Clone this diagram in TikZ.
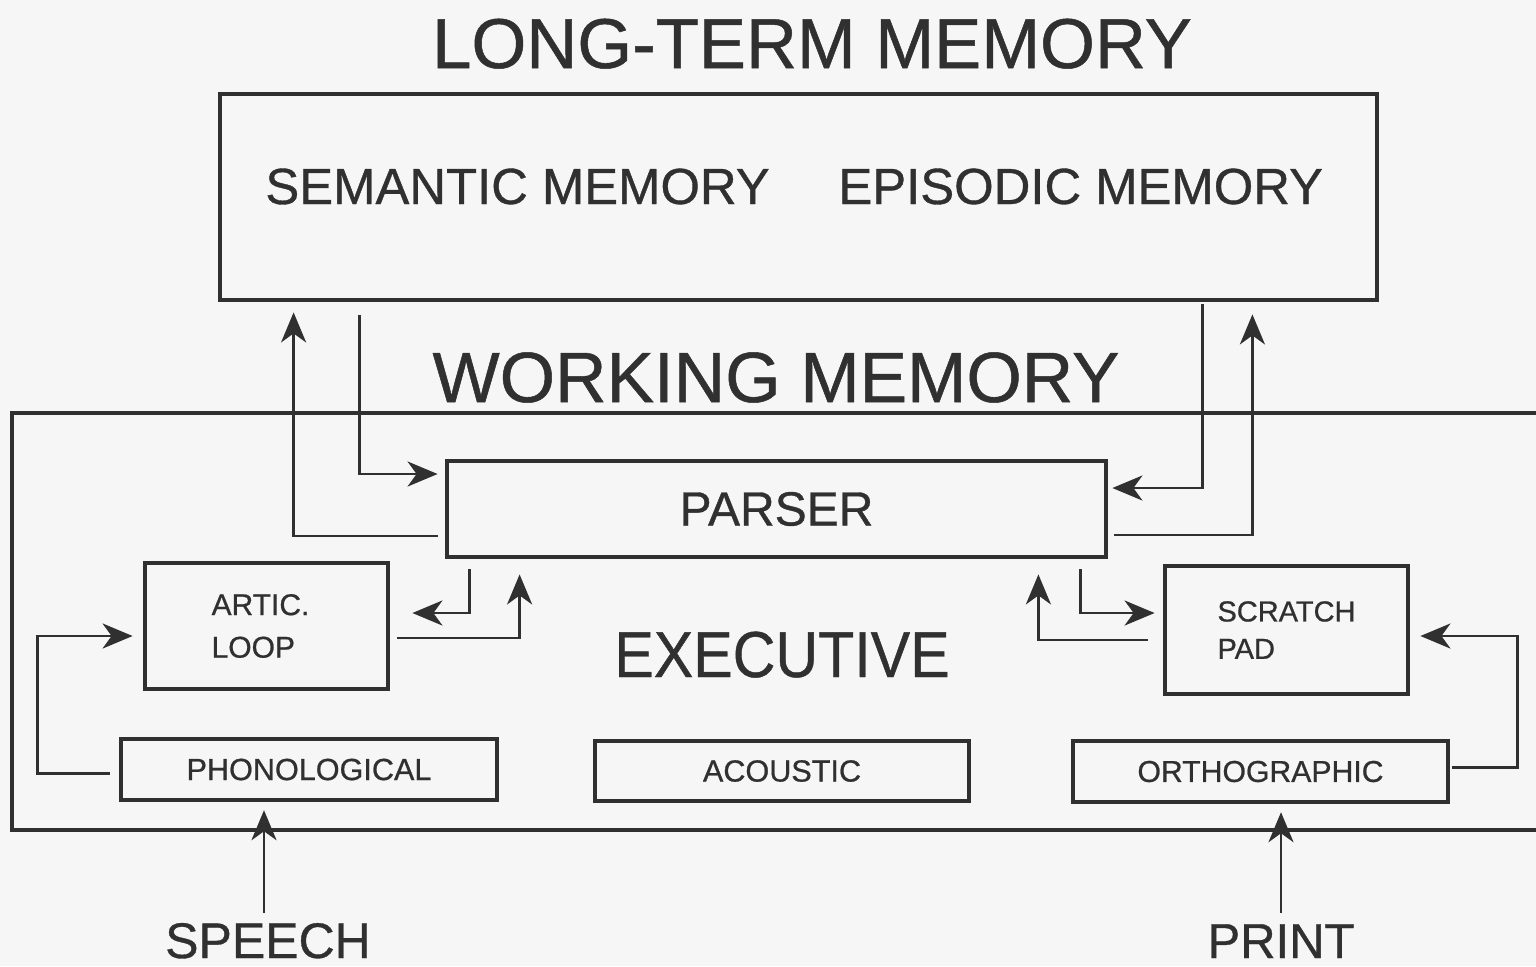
\documentclass[tikz,border=0pt]{standalone}
\usepackage{fontspec}
\usepackage{graphicx}
\setmainfont{Liberation Sans}[FakeBold=0.7]
\usetikzlibrary{arrows.meta,calc}

\definecolor{ink}{HTML}{303030}
\definecolor{paper}{HTML}{F6F6F6}

\newcommand{\fsz}[1]{\fontsize{#1}{1.15\dimexpr#1\relax}\selectfont}

\tikzset{
  frame/.style={draw=ink, line width=2.4pt, inner sep=0pt, text=ink},
  smallbox/.style={frame, line width=2.2pt},
  label/.style={inner sep=0pt, text=ink},
  conn/.style={draw=ink, line width=1.45pt,
    -{Stealth[length=15pt,width=12.5pt,inset=4.5pt]}},
}

\begin{document}
\begin{tikzpicture}[x=0.5pt,y=-0.5pt]
  \fill[paper] (0,0) rectangle (1536,966);
  \useasboundingbox (0,0) rectangle (1536,966);

  % long-term memory
  \node[label, anchor=base, font=\fsz{35.3pt}] (ltmtitle) at (812,68) {LONG-TERM MEMORY};
  \node[frame, minimum width=578.5pt, minimum height=103pt] (ltm) at (798.5,197) {};
  \node[label, anchor=base west, font=\fsz{25.4pt}] (sem) at (265,204) {SEMANTIC MEMORY};
  \node[label, anchor=base west, font=\fsz{25.4pt}] (epi) at (838,204) {EPISODIC MEMORY};

  % working memory
  \node[label, anchor=base, font=\fsz{35.6pt}] (wmtitle) at (776,402) {WORKING MEMORY};
  \node[frame, minimum width=763pt, minimum height=208.5pt] (wm) at (775,621.5) {};

  \node[frame, minimum width=329.5pt, minimum height=48pt, font=\fsz{24pt}] (parser) at (776.5,509) {PARSER};
  \node[label, anchor=base, font=\fsz{32.5pt}] (exec) at (782,677) {\scalebox{0.91}[1]{EXECUTIVE}};

  \node[frame, minimum width=121.5pt, minimum height=63pt, align=left, font=\fsz{15pt}] (artic) at (266.5,626) {\hspace*{-6pt}ARTIC.\\[4pt]\hspace*{-6pt}LOOP};
  \node[frame, minimum width=121.5pt, minimum height=64pt, align=left, font=\fsz{14.5pt}] (scratch) at (1286.5,630) {SCRATCH\\[2pt]PAD};

  \node[smallbox, minimum width=188pt, minimum height=30.5pt, font=\fsz{15.3pt}] (phono) at (309,769.5) {PHONOLOGICAL};
  \node[smallbox, minimum width=187pt, minimum height=30pt, font=\fsz{15.3pt}] (acoustic) at (782,771) {ACOUSTIC};
  \node[smallbox, minimum width=187.5pt, minimum height=30.5pt, font=\fsz{15.1pt}] (ortho) at (1260.5,771.5) {ORTHOGRAPHIC};

  % inputs
  \node[label, anchor=base, font=\fsz{25pt}] (speech) at (268,958) {SPEECH};
  \node[label, anchor=base, font=\fsz{24.5pt}] (print) at (1281,958) {PRINT};

  % parser <-> long-term memory
  \draw[conn] ($(parser.west)+(-7,27)$) -| ($(ltm.south west)+(76,10)$);
  \draw[conn] ($(ltm.south west)+(142,13)$) |- ($(parser.west)+(-7,-35)$);
  \draw[conn] ($(ltm.south east)+(-177,2)$) |- ($(parser.east)+(4,-21)$);
  \draw[conn] ($(parser.east)+(6,26)$) -| ($(ltm.south east)+(-127,12)$);

  % parser <-> slave systems
  \draw[conn] ($(parser.south west)+(25,10)$) |- ($(artic.east)+(22,-13)$);
  \draw[conn] ($(artic.east)+(7,12)$) -| ($(parser.south west)+(75,15)$);
  \draw[conn] ($(scratch.west)+(-15,10)$) -| ($(parser.south east)+(-70,15)$);
  \draw[conn] ($(parser.south east)+(-28,10)$) |- ($(scratch.west)+(-8,-17)$);

  % input stores -> loops
  \draw[conn] ($(phono.west)+(-9,4)$) -- ++(-72,0) |- ($(artic.west)+(-10,10)$);
  \draw[conn] ($(ortho.east)+(2,-4)$) -- ++(65,0) |- ($(scratch.east)+(10,6)$);

  % external inputs
  \coordinate (sp) at ($(speech.north)+(-4,-10)$);
  \coordinate (pr) at ($(print.north)+(0,-11)$);
  \draw[conn] (sp) -- ($(sp |- phono.south)+(0,8)$);
  \draw[conn] (pr) -- ($(pr |- ortho.south)+(0,8)$);
\end{tikzpicture}
\end{document}
